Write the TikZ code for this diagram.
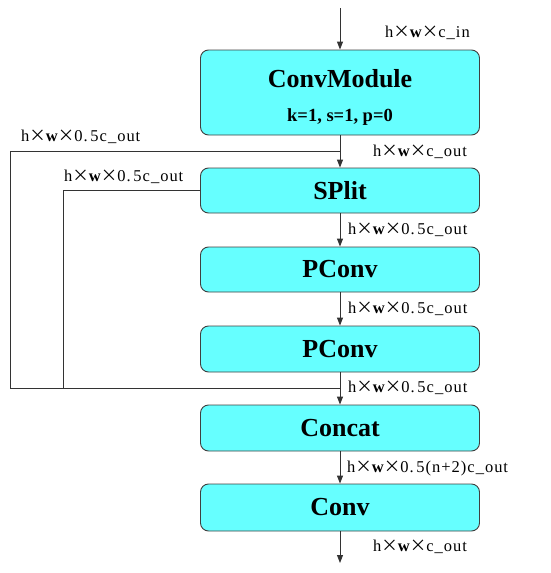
\documentclass[tikz,border=0pt]{standalone}
\usepackage{fontspec}
\setmainfont{Liberation Serif}
\newfontfamily\lblfont[LetterSpace=6]{Liberation Serif}
\newfontfamily\cjkfont{Noto Sans CJK SC}
\usetikzlibrary{arrows.meta}
\definecolor{boxcyan}{RGB}{102,255,255}
\newcommand{\tmx}{{\cjkfont ×}}
\newcommand{\bw}{{\bfseries w}}
\begin{document}
\begin{tikzpicture}[x=1pt,y=-1pt,
  blk/.style={draw=black!75, line width=0.9pt, fill=boxcyan, rounded corners=8pt,
    minimum width=279pt, inner sep=0pt},
  ttl/.style={font=\bfseries\fontsize{26}{28}\selectfont, inner sep=0pt},
  sub/.style={font=\bfseries\fontsize{18.5}{20}\selectfont, inner sep=0pt},
  lbl/.style={anchor=west, font=\lblfont\fontsize{16.5}{18}\selectfont, inner sep=0pt},
  conn/.style={line width=0.9pt, draw=black!80},
  arr/.style={conn, -{Triangle[length=8pt,width=6pt]}}]
\useasboundingbox (0,0) rectangle (550,573);

% blocks
\node[blk, minimum height=85pt] (cm) at (340,92.5) {};
\node[ttl] (cmt) at (340,79) {ConvModule};
\node[sub] (cmp) at (340,117) {k=1, s=1, p=0};
\node[blk, minimum height=45pt, ttl] (sp) at (340,190.5) {SPlit};
\node[blk, minimum height=45pt, ttl] (pc1) at (340,269.5) {PConv};
\node[blk, minimum height=46pt, ttl] (pc2) at (340,349) {PConv};
\node[blk, minimum height=46pt, ttl] (ca) at (340,428) {Concat};
\node[blk, minimum height=47pt, ttl] (cv) at (340,507.5) {Conv};

% coordinates
\coordinate (in) at (340,8);
\coordinate (j1) at (340,151);
\coordinate (l1) at (10,151);
\coordinate (l2) at (10,388);
\coordinate (j2) at (340,388);
\coordinate (i1) at (63,190.5);
\coordinate (i2) at (63,388);
\coordinate (out) at (340,563);

% connectors
\draw[arr] (in) -- (cm.north);
\draw[conn] (cm.south) -- (j1);
\draw[arr] (j1) -- (sp.north);
\draw[conn] (j1) -- (l1) -- (l2) -- (j2);
\draw[conn] (sp.west) -- (i1) -- (i2);
\draw[arr] (sp.south) -- (pc1.north);
\draw[arr] (pc1.south) -- (pc2.north);
\draw[conn] (pc2.south) -- (j2);
\draw[arr] (j2) -- (ca.north);
\draw[arr] (ca.south) -- (cv.north);
\draw[arr] (cv.south) -- (out);

% labels
\node[lbl] (t1) at (385,33) {h\tmx\bw\tmx c\_in};
\node[lbl] (t2) at (21,137) {h\tmx\bw\tmx 0.\,5c\_out};
\node[lbl] (t3) at (373,152) {h\tmx\bw\tmx c\_out};
\node[lbl] (t4) at (64,177) {h\tmx\bw\tmx 0.\,5c\_out};
\node[lbl] (t5) at (348,230) {h\tmx\bw\tmx 0.\,5c\_out};
\node[lbl] (t6) at (348,309) {h\tmx\bw\tmx 0.\,5c\_out};
\node[lbl] (t7) at (348,388) {h\tmx\bw\tmx 0.\,5c\_out};
\node[lbl] (t8) at (347,468) {h\tmx\bw\tmx 0.\,5(n+2)c\_out};
\node[lbl] (t9) at (373,547) {h\tmx\bw\tmx c\_out};
\end{tikzpicture}
\end{document}
